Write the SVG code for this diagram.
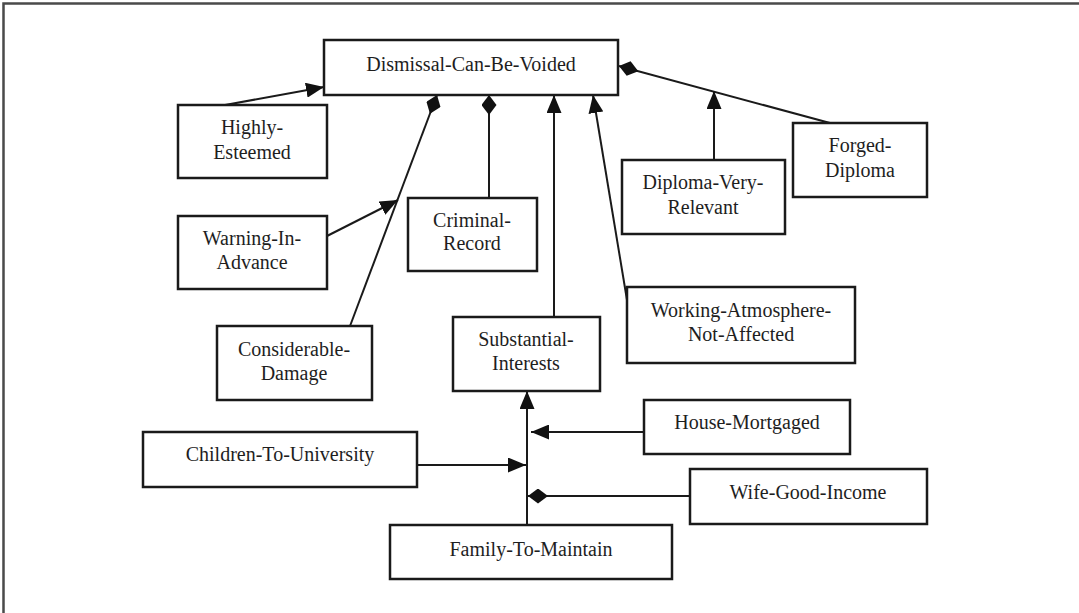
<svg xmlns="http://www.w3.org/2000/svg" width="1079" height="613" viewBox="0 0 1079 613">
  <style>
    .box { fill: #ffffff; stroke: #1a1a1a; stroke-width: 2.5; }
    .lbl { font-family: "Liberation Serif", "Times New Roman", serif; font-size: 20px; fill: #1e1e1e; text-anchor: middle; }
    .edge { fill: none; stroke: #1a1a1a; stroke-width: 2; }
    .frame { stroke: #4a4a4a; stroke-width: 2.5; fill: none; }
  </style>
  <defs>
    <!-- filled triangular arrowhead, tip on the line end -->
    <marker id="arrow" viewBox="0 0 18 15" refX="18" refY="7.5" markerWidth="18" markerHeight="15" markerUnits="userSpaceOnUse" orient="auto">
      <path d="M0,0 L18,7.5 L0,15 Z" fill="#111111"/>
    </marker>
    <!-- filled diamond, far tip on the line end -->
    <marker id="diamond" viewBox="0 0 20 15" refX="20" refY="7.5" markerWidth="20" markerHeight="15" markerUnits="userSpaceOnUse" orient="auto">
      <path d="M0,7.5 L10,0 L20,7.5 L10,15 Z" fill="#111111"/>
    </marker>
  </defs>

  <rect width="1079" height="613" fill="#ffffff"/>
  <!-- outer frame (top and left edges) -->
  <path class="frame" d="M3.5,613 L3.5,3.5 L1079,3.5"/>

  <g id="connectors">
    <line class="edge" x1="225" y1="105" x2="324" y2="87" marker-end="url(#arrow)"/>
    <line class="edge" x1="350" y1="326" x2="437" y2="95" marker-end="url(#diamond)"/>
    <line class="edge" x1="327" y1="236" x2="398" y2="200" marker-end="url(#arrow)"/>
    <line class="edge" x1="489" y1="198" x2="489" y2="95" marker-end="url(#diamond)"/>
    <line class="edge" x1="554" y1="317" x2="554" y2="95" marker-end="url(#arrow)"/>
    <line class="edge" x1="627" y1="300" x2="593" y2="95" marker-end="url(#arrow)"/>
    <line class="edge" x1="830" y1="123" x2="619" y2="66" marker-end="url(#diamond)"/>
    <line class="edge" x1="714" y1="160" x2="714" y2="91" marker-end="url(#arrow)"/>
    <line class="edge" x1="527" y1="525" x2="527" y2="391" marker-end="url(#arrow)"/>
    <line class="edge" x1="417" y1="465" x2="526" y2="465" marker-end="url(#arrow)"/>
    <line class="edge" x1="644" y1="432" x2="531" y2="432" marker-end="url(#arrow)"/>
    <line class="edge" x1="690" y1="496" x2="528" y2="496" marker-end="url(#diamond)"/>
  </g>

  <g id="dismissal-can-be-voided">
    <rect class="box" x="324" y="40" width="294" height="55"/>
    <text class="lbl" x="471" y="71">Dismissal-Can-Be-Voided</text>
  </g>
  <g id="highly-esteemed">
    <rect class="box" x="178" y="105" width="149" height="73"/>
    <text class="lbl" x="252" y="134">Highly-</text>
    <text class="lbl" x="252" y="159">Esteemed</text>
  </g>
  <g id="warning-in-advance">
    <rect class="box" x="178" y="216" width="149" height="73"/>
    <text class="lbl" x="252" y="245">Warning-In-</text>
    <text class="lbl" x="252" y="269">Advance</text>
  </g>
  <g id="considerable-damage">
    <rect class="box" x="217" y="326" width="155" height="74"/>
    <text class="lbl" x="294" y="356">Considerable-</text>
    <text class="lbl" x="294" y="380">Damage</text>
  </g>
  <g id="criminal-record">
    <rect class="box" x="408" y="198" width="129" height="73"/>
    <text class="lbl" x="472" y="227">Criminal-</text>
    <text class="lbl" x="472" y="250">Record</text>
  </g>
  <g id="substantial-interests">
    <rect class="box" x="453" y="317" width="147" height="74"/>
    <text class="lbl" x="526" y="346">Substantial-</text>
    <text class="lbl" x="526" y="370">Interests</text>
  </g>
  <g id="working-atmosphere-not-affected">
    <rect class="box" x="627" y="287" width="228" height="76"/>
    <text class="lbl" x="741" y="317">Working-Atmosphere-</text>
    <text class="lbl" x="741" y="341">Not-Affected</text>
  </g>
  <g id="diploma-very-relevant">
    <rect class="box" x="622" y="160" width="163" height="74"/>
    <text class="lbl" x="703" y="189">Diploma-Very-</text>
    <text class="lbl" x="703" y="214">Relevant</text>
  </g>
  <g id="forged-diploma">
    <rect class="box" x="793" y="123" width="134" height="74"/>
    <text class="lbl" x="860" y="152">Forged-</text>
    <text class="lbl" x="860" y="177">Diploma</text>
  </g>
  <g id="children-to-university">
    <rect class="box" x="143" y="432" width="274" height="55"/>
    <text class="lbl" x="280" y="461">Children-To-University</text>
  </g>
  <g id="house-mortgaged">
    <rect class="box" x="644" y="400" width="206" height="54"/>
    <text class="lbl" x="747" y="429">House-Mortgaged</text>
  </g>
  <g id="wife-good-income">
    <rect class="box" x="690" y="469" width="237" height="55"/>
    <text class="lbl" x="808" y="499">Wife-Good-Income</text>
  </g>
  <g id="family-to-maintain">
    <rect class="box" x="390" y="525" width="282" height="54"/>
    <text class="lbl" x="531" y="556">Family-To-Maintain</text>
  </g>
</svg>
